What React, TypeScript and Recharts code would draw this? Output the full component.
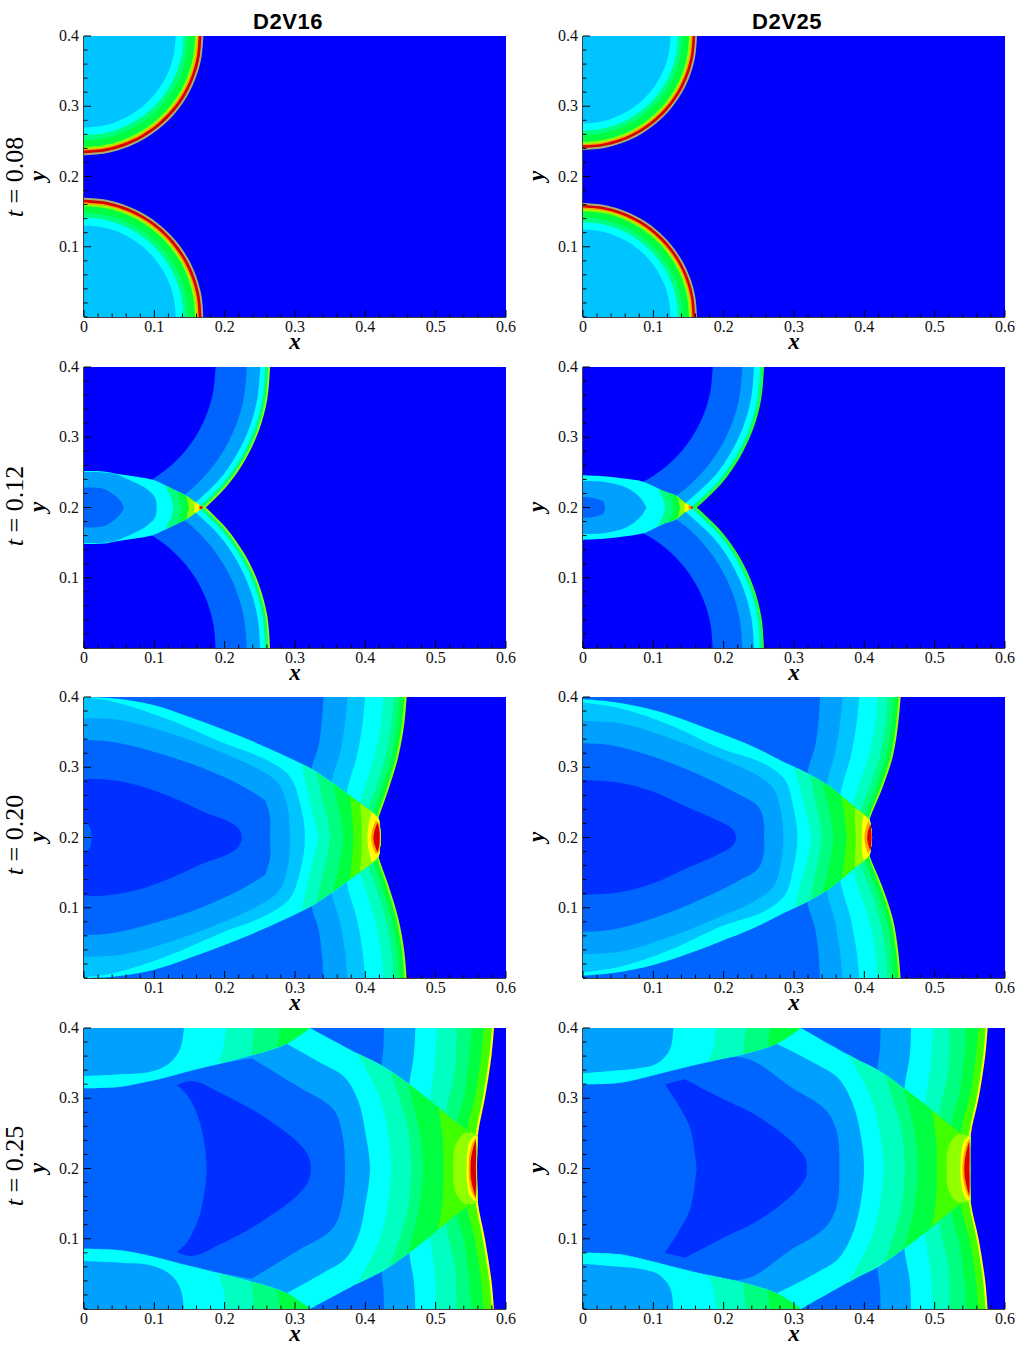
import React from 'react';
import { ScatterChart, Scatter, XAxis, YAxis, Label } from 'recharts';

// contour colours, low to high
const PALETTE = ['#0000ff', '#0030ff', '#0064ff', '#00a0ff', '#00c4ff', '#00ffff', '#00ffc0', '#00ff80', '#00ff40', '#40ff00', '#90ff00', '#ffff00', '#ffa000', '#ff3000', '#d80000', '#a8b070'];

const xTicks = [0, 0.02, 0.04, 0.06, 0.08, 0.1, 0.12, 0.14, 0.16, 0.18, 0.2, 0.22, 0.24, 0.26, 0.28, 0.3, 0.32, 0.34, 0.36, 0.38, 0.4, 0.42, 0.44, 0.46, 0.48, 0.5, 0.52, 0.54, 0.56, 0.58, 0.6];
const yTicks = [0, 0.02, 0.04, 0.06, 0.08, 0.1, 0.12, 0.14, 0.16, 0.18, 0.2, 0.22, 0.24, 0.26, 0.28, 0.3, 0.32, 0.34, 0.36, 0.38, 0.4];
const xMajor = [0, 0.1, 0.2, 0.3, 0.4, 0.5, 0.6];
const yMajor = [0.1, 0.2, 0.3, 0.4];
const columnTitles = ['D2V16', 'D2V25'];
const rowTimes = ['0.08', '0.12', '0.20', '0.25'];

const backdrop = [0, 0.4, 0.6, 0.4, 0.6, 0.2];

// contours hold the upper half (x, y, x, y ...); the field is symmetric about y = 0.2
// t = 0.08
const r1LeftLevels = [0, 15, 14, 12, 10, 8, 7, 5, 4];
const r1Left = [
  backdrop,
  [0, 0.4, 0.1697, 0.4, 0.1672, 0.3705, 0.1595, 0.342, 0.147, 0.3151, 0.13, 0.2909, 0.1091, 0.27, 0.0849, 0.253, 0.058, 0.2405, 0.0295, 0.2328, 0, 0.2303, 0, 0.2],
  [0, 0.4, 0.167, 0.4, 0.1645, 0.3709, 0.157, 0.3429, 0.1446, 0.3165, 0.1279, 0.2926, 0.1074, 0.2721, 0.0835, 0.2554, 0.0571, 0.243, 0.0291, 0.2355, 0, 0.233, 0, 0.2],
  [0, 0.4, 0.163, 0.4, 0.1606, 0.3716, 0.1532, 0.3443, 0.1412, 0.3185, 0.1249, 0.2952, 0.1048, 0.2751, 0.0815, 0.2588, 0.0557, 0.2468, 0.0284, 0.2394, 0, 0.237, 0, 0.2],
  [0, 0.4, 0.161, 0.4, 0.1586, 0.372, 0.1513, 0.3449, 0.1394, 0.3195, 0.1233, 0.2965, 0.1035, 0.2767, 0.0805, 0.2606, 0.0551, 0.2487, 0.028, 0.2414, 0, 0.239, 0, 0.2],
  [0, 0.4, 0.1578, 0.4, 0.1554, 0.3725, 0.1483, 0.346, 0.1367, 0.3211, 0.1209, 0.2985, 0.1015, 0.2791, 0.0789, 0.2633, 0.054, 0.2517, 0.0275, 0.2446, 0, 0.2422, 0, 0.2],
  [0, 0.4, 0.148, 0.4, 0.1458, 0.3742, 0.1391, 0.3494, 0.1282, 0.326, 0.1134, 0.3048, 0.0952, 0.2866, 0.074, 0.2718, 0.0506, 0.2609, 0.0258, 0.2542, 0, 0.252, 0, 0.2],
  [0, 0.4, 0.1412, 0.4, 0.1391, 0.3754, 0.1327, 0.3517, 0.1223, 0.3294, 0.1082, 0.3092, 0.0908, 0.2918, 0.0706, 0.2777, 0.0483, 0.2673, 0.0246, 0.2609, 0, 0.2588, 0, 0.2],
  [0, 0.4, 0.1304, 0.4, 0.1284, 0.3773, 0.1226, 0.3554, 0.1129, 0.3348, 0.0999, 0.3162, 0.0838, 0.3001, 0.0652, 0.2871, 0.0446, 0.2774, 0.0227, 0.2716, 0, 0.2696, 0, 0.2],
];

const r1RightLevels = [0, 15, 14, 12, 10, 8, 7, 5, 4];
const r1Right = [
  backdrop,
  [0, 0.4, 0.1621, 0.4, 0.1597, 0.3718, 0.1524, 0.3446, 0.1404, 0.3189, 0.1242, 0.2958, 0.1042, 0.2758, 0.0811, 0.2596, 0.0554, 0.2476, 0.0282, 0.2403, 0, 0.2379, 0, 0.2],
  [0, 0.4, 0.1595, 0.4, 0.1571, 0.3722, 0.1499, 0.3455, 0.1381, 0.3202, 0.1222, 0.2974, 0.1026, 0.2778, 0.0798, 0.2619, 0.0545, 0.2501, 0.0278, 0.2429, 0, 0.2405, 0, 0.2],
  [0, 0.4, 0.1557, 0.4, 0.1534, 0.3729, 0.1464, 0.3468, 0.1348, 0.3221, 0.1193, 0.2999, 0.1001, 0.2807, 0.0779, 0.2652, 0.0532, 0.2536, 0.0271, 0.2466, 0, 0.2443, 0, 0.2],
  [0, 0.4, 0.1538, 0.4, 0.1515, 0.3732, 0.1446, 0.3474, 0.1332, 0.3231, 0.1178, 0.3011, 0.0989, 0.2822, 0.0769, 0.2668, 0.0526, 0.2554, 0.0268, 0.2485, 0, 0.2462, 0, 0.2],
  [0, 0.4, 0.1507, 0.4, 0.1484, 0.3738, 0.1417, 0.3485, 0.1305, 0.3246, 0.1154, 0.3031, 0.0969, 0.2846, 0.0754, 0.2695, 0.0515, 0.2583, 0.0262, 0.2516, 0, 0.2493, 0, 0.2],
  [0, 0.4, 0.1413, 0.4, 0.1392, 0.3754, 0.1328, 0.3517, 0.1224, 0.3293, 0.1082, 0.3091, 0.0909, 0.2918, 0.0707, 0.2776, 0.0483, 0.2672, 0.0246, 0.2608, 0, 0.2587, 0, 0.2],
  [0, 0.4, 0.1349, 0.4, 0.1329, 0.3765, 0.1268, 0.3539, 0.1168, 0.3325, 0.1033, 0.3133, 0.0867, 0.2967, 0.0675, 0.2832, 0.0461, 0.2732, 0.0235, 0.2671, 0, 0.2651, 0, 0.2],
  [0, 0.4, 0.1245, 0.4, 0.1226, 0.3783, 0.117, 0.3574, 0.1078, 0.3378, 0.0954, 0.3199, 0.0801, 0.3046, 0.0623, 0.2922, 0.0426, 0.283, 0.0217, 0.2774, 0, 0.2755, 0, 0.2],
];

// t = 0.12
const r2LeftLevels = [0, 10, 7, 5, 3, 2, 0, 5, 3, 2, 7, 8, 10, 11, 12, 14];
const r2Left = [
  backdrop,
  [0, 0.4, 0.2646, 0.4, 0.2606, 0.354, 0.2487, 0.3095, 0.2291, 0.2677, 0.2027, 0.2299, 0.1732, 0.2],
  [0, 0.4, 0.262, 0.4, 0.2581, 0.3544, 0.2463, 0.3104, 0.2269, 0.269, 0.2007, 0.2315, 0.1692, 0.2],
  [0, 0.4, 0.2575, 0.4, 0.2536, 0.3552, 0.2421, 0.3119, 0.223, 0.2713, 0.1973, 0.2344, 0.1622, 0.2],
  [0, 0.4, 0.2504, 0.4, 0.2467, 0.3564, 0.2354, 0.3144, 0.2168, 0.2748, 0.1918, 0.239, 0.1507, 0.2],
  [0, 0.4, 0.2314, 0.4, 0.2279, 0.3597, 0.2175, 0.3209, 0.2004, 0.2843, 0.1773, 0.2513, 0.1488, 0.2227, 0.1164, 0.2],
  [0, 0.4, 0.187, 0.4, 0.1842, 0.3675, 0.1757, 0.336, 0.1619, 0.3065, 0.1432, 0.2798, 0.1202, 0.2568, 0.0935, 0.2381, 0.064, 0.2242, 0.0325, 0.2158, 0, 0.213, 0, 0.2],
  [0, 0.2519, 0.0275, 0.2514, 0.0512, 0.2472, 0.0749, 0.2438, 0.0986, 0.2391, 0.1223, 0.2282, 0.146, 0.2163, 0.1578, 0.2082, 0.1697, 0.2],
  [0, 0.2505, 0.0275, 0.25, 0.045, 0.2475, 0.0559, 0.2432, 0.0749, 0.2344, 0.0891, 0.2263, 0.1009, 0.2144, 0.1033, 0.2],
  [0, 0.2282, 0.0275, 0.2268, 0.0417, 0.2187, 0.0536, 0.2068, 0.0569, 0.2],
  [0.127, 0.2, 0.1246, 0.2116, 0.1152, 0.2315, 0.1223, 0.2282, 0.146, 0.2163, 0.1578, 0.2082, 0.1697, 0.2],
  [0.1389, 0.2, 0.1365, 0.2092, 0.133, 0.2228, 0.146, 0.2163, 0.1578, 0.2082, 0.1697, 0.2],
  [0.1493, 0.2, 0.147, 0.2092, 0.146, 0.2163, 0.1578, 0.2082, 0.1697, 0.2],
  [0.1578, 0.2, 0.1569, 0.2055, 0.1578, 0.2082, 0.1697, 0.2],
  [0.1625, 0.2, 0.1645, 0.2037, 0.1697, 0.2],
  [0.164, 0.2, 0.1665, 0.2025, 0.169, 0.2],
];

const r2RightLevels = [0, 9, 7, 5, 3, 2, 0, 5, 3, 2, 7, 8, 10, 11, 12, 14];
const r2Right = [
  backdrop,
  [0, 0.4, 0.2574, 0.4, 0.2535, 0.3553, 0.242, 0.312, 0.2229, 0.2713, 0.1972, 0.2345, 0.162, 0.2],
  [0, 0.4, 0.2555, 0.4, 0.2517, 0.3555, 0.2402, 0.3126, 0.2213, 0.2723, 0.1957, 0.2357, 0.159, 0.2],
  [0, 0.4, 0.2516, 0.4, 0.2478, 0.3562, 0.2365, 0.314, 0.2179, 0.2742, 0.1927, 0.2382, 0.1526, 0.2],
  [0, 0.4, 0.2431, 0.4, 0.2395, 0.3577, 0.2285, 0.3169, 0.2105, 0.2785, 0.1862, 0.2437, 0.1382, 0.2],
  [0, 0.4, 0.2265, 0.4, 0.2231, 0.3606, 0.2129, 0.3225, 0.1962, 0.2868, 0.1735, 0.2543, 0.1456, 0.2265, 0.1063, 0.2],
  [0, 0.4, 0.1844, 0.4, 0.1816, 0.3679, 0.1733, 0.3369, 0.1597, 0.3078, 0.1413, 0.2815, 0.1186, 0.2587, 0.0922, 0.2403, 0.0631, 0.2269, 0.0321, 0.2184, 0, 0.2156, 0, 0.2],
  [0, 0.2458, 0.0289, 0.2445, 0.0526, 0.242, 0.0858, 0.2367, 0.1, 0.2305, 0.1142, 0.2235, 0.1332, 0.2163, 0.145, 0.2068, 0.1569, 0.2],
  [0, 0.2377, 0.0289, 0.2367, 0.0621, 0.2282, 0.081, 0.2144, 0.0905, 0.2],
  [0, 0.2149, 0.015, 0.2137, 0.0289, 0.2092, 0.0313, 0.2],
  [0.1166, 0.2, 0.1142, 0.211, 0.106, 0.2273, 0.1142, 0.2235, 0.1332, 0.2163, 0.145, 0.2068, 0.1569, 0.2],
  [0.1284, 0.2, 0.1265, 0.2092, 0.12, 0.2213, 0.1332, 0.2163, 0.145, 0.2068, 0.1569, 0.2],
  [0.1379, 0.2, 0.136, 0.2092, 0.1332, 0.2163, 0.145, 0.2068, 0.1569, 0.2],
  [0.145, 0.2, 0.144, 0.206, 0.145, 0.2068, 0.1569, 0.2],
  [0.1498, 0.2, 0.151, 0.204, 0.1569, 0.2],
  [0.1525, 0.2, 0.1545, 0.2022, 0.1565, 0.2],
];

// t = 0.20
const r3LeftLevels = [0, 10, 8, 7, 6, 5, 4, 3, 2, 5, 4, 3, 2, 1, 2, 6, 7, 8, 9, 10, 11, 12, 14];
const r3Left = [
  backdrop,
  [0, 0.4, 0.4588, 0.4, 0.4555, 0.3626, 0.4469, 0.3151, 0.4327, 0.2676, 0.4185, 0.2273, 0.41, 0.2],
  [0, 0.4, 0.4555, 0.4, 0.4522, 0.3626, 0.4437, 0.3151, 0.4297, 0.2676, 0.4165, 0.229, 0.41, 0.2],
  [0, 0.4, 0.4483, 0.4, 0.4455, 0.3626, 0.437, 0.3151, 0.4225, 0.2676, 0.412, 0.234, 0.412, 0.2],
  [0, 0.4, 0.4398, 0.4, 0.437, 0.3626, 0.4285, 0.3151, 0.414, 0.2676, 0.404, 0.24, 0.404, 0.2],
  [0, 0.4, 0.4255, 0.4, 0.4225, 0.3626, 0.413, 0.3151, 0.398, 0.2676, 0.39, 0.24, 0.39, 0.2],
  [0, 0.4, 0.3996, 0.4, 0.3962, 0.3626, 0.3877, 0.3151, 0.3735, 0.2629, 0.3735, 0.2],
  [0, 0.4, 0.3744, 0.4, 0.3711, 0.3626, 0.364, 0.3198, 0.3522, 0.2795, 0.3522, 0.2],
  [0, 0.4, 0.3405, 0.4, 0.3379, 0.3626, 0.3332, 0.3293, 0.3237, 0.2985, 0.3237, 0.2],
  [0, 0.4, 0.0417, 0.3981, 0.0986, 0.3886, 0.146, 0.373, 0.1934, 0.3554, 0.2408, 0.3365, 0.2834, 0.3175, 0.3237, 0.2975, 0.3522, 0.2786, 0.3734, 0.2629, 0.3971, 0.2454, 0.4185, 0.2273, 0.4205, 0.218, 0.4218, 0.2],
  [0, 0.3996, 0.0417, 0.3934, 0.1223, 0.3673, 0.1934, 0.3365, 0.2645, 0.308, 0.2929, 0.2866, 0.3071, 0.2487, 0.3142, 0.2],
  [0, 0.3697, 0.0512, 0.3673, 0.1223, 0.3483, 0.1934, 0.3222, 0.2455, 0.2985, 0.2763, 0.2771, 0.2882, 0.2487, 0.2929, 0.2],
  [0, 0.3388, 0.037, 0.3365, 0.0986, 0.3222, 0.1697, 0.2985, 0.2266, 0.2724, 0.2574, 0.2534, 0.2645, 0.2297, 0.2645, 0.2],
  [0, 0.2828, 0.0275, 0.2828, 0.0749, 0.2748, 0.1223, 0.2582, 0.1697, 0.2368, 0.2171, 0.2155, 0.2242, 0.2036, 0.2242, 0.2],
  [0, 0.2205, 0.006, 0.218, 0.0095, 0.211, 0.0105, 0.2],
  [0.3332, 0.2, 0.3285, 0.2202, 0.3213, 0.2487, 0.3095, 0.3045, 0.3237, 0.2975, 0.3522, 0.2786, 0.3734, 0.2629, 0.3971, 0.2454, 0.4185, 0.2273, 0.4205, 0.218, 0.4218, 0.2],
  [0.3498, 0.2, 0.3474, 0.2202, 0.3402, 0.2487, 0.3307, 0.2929, 0.3522, 0.2786, 0.3734, 0.2629, 0.3971, 0.2454, 0.4185, 0.2273, 0.4205, 0.218, 0.4218, 0.2],
  [0.3688, 0.2, 0.3664, 0.2202, 0.3616, 0.2439, 0.3545, 0.2769, 0.3734, 0.2629, 0.3971, 0.2454, 0.4185, 0.2273, 0.4205, 0.218, 0.4218, 0.2],
  [0.383, 0.2, 0.382, 0.2202, 0.3782, 0.259, 0.3971, 0.2454, 0.4185, 0.2273, 0.4205, 0.218, 0.4218, 0.2],
  [0.3948, 0.2, 0.3948, 0.2202, 0.3924, 0.2487, 0.3971, 0.2454, 0.4185, 0.2273, 0.4205, 0.218, 0.4218, 0.2],
  [0.4029, 0.2, 0.4043, 0.2155, 0.409, 0.2355, 0.4185, 0.2273, 0.4205, 0.218, 0.4218, 0.2],
  [0.4081, 0.2, 0.4095, 0.21, 0.415, 0.224, 0.4195, 0.22, 0.4205, 0.215, 0.4212, 0.2],
  [0.4114, 0.2, 0.4128, 0.209, 0.4171, 0.2211, 0.4195, 0.213, 0.4205, 0.2],
];

const r3RightLevels = [0, 10, 8, 7, 6, 5, 4, 3, 2, 5, 4, 3, 2, 1, 6, 7, 8, 9, 10, 11, 12, 14];
const r3Right = [
  backdrop,
  [0, 0.4, 0.4517, 0.4, 0.4483, 0.3626, 0.4404, 0.3151, 0.4246, 0.2676, 0.4075, 0.2262, 0.4, 0.2],
  [0, 0.4, 0.4484, 0.4, 0.4452, 0.3626, 0.4372, 0.3151, 0.4216, 0.2676, 0.4065, 0.229, 0.4, 0.2],
  [0, 0.4, 0.4412, 0.4, 0.4385, 0.3626, 0.4305, 0.3151, 0.415, 0.2676, 0.403, 0.234, 0.403, 0.2],
  [0, 0.4, 0.4327, 0.4, 0.43, 0.3626, 0.4215, 0.3151, 0.406, 0.2676, 0.396, 0.24, 0.396, 0.2],
  [0, 0.4, 0.4184, 0.4, 0.4155, 0.3626, 0.406, 0.3151, 0.39, 0.2676, 0.382, 0.24, 0.382, 0.2],
  [0, 0.4, 0.3929, 0.4, 0.3891, 0.3626, 0.3806, 0.3151, 0.3654, 0.2582, 0.3654, 0.2],
  [0, 0.4, 0.3692, 0.4, 0.3654, 0.3626, 0.3583, 0.3198, 0.3465, 0.2748, 0.3465, 0.2],
  [0, 0.4, 0.337, 0.4, 0.3346, 0.3626, 0.3299, 0.3293, 0.3189, 0.2914, 0.3189, 0.2],
  [0, 0.3967, 0.0431, 0.3929, 0.1, 0.3815, 0.1474, 0.3663, 0.1948, 0.3483, 0.2422, 0.3293, 0.2848, 0.308, 0.3189, 0.2914, 0.3488, 0.274, 0.3664, 0.26, 0.3867, 0.2426, 0.407, 0.2255, 0.4092, 0.216, 0.411, 0.2],
  [0, 0.392, 0.0526, 0.3839, 0.1237, 0.3602, 0.1948, 0.327, 0.2611, 0.3032, 0.2872, 0.2819, 0.299, 0.2439, 0.3048, 0.2],
  [0, 0.3659, 0.0526, 0.3626, 0.1237, 0.3412, 0.1948, 0.3127, 0.2469, 0.289, 0.2706, 0.27, 0.2801, 0.2439, 0.2848, 0.2],
  [0, 0.3341, 0.0384, 0.3317, 0.1, 0.3151, 0.1711, 0.2866, 0.2232, 0.2605, 0.2493, 0.2439, 0.2574, 0.2202, 0.2574, 0.2],
  [0, 0.2819, 0.0526, 0.2781, 0.1, 0.2653, 0.1474, 0.2439, 0.1948, 0.2226, 0.2137, 0.2107, 0.2175, 0.2],
  [0.3252, 0.2, 0.321, 0.2202, 0.314, 0.2487, 0.3, 0.3006, 0.3189, 0.2914, 0.3488, 0.274, 0.3664, 0.26, 0.3867, 0.2426, 0.407, 0.2255, 0.4092, 0.216, 0.411, 0.2],
  [0.3394, 0.2, 0.3375, 0.2202, 0.331, 0.2487, 0.323, 0.2891, 0.3488, 0.274, 0.3664, 0.26, 0.3867, 0.2426, 0.407, 0.2255, 0.4092, 0.216, 0.411, 0.2],
  [0.3559, 0.2, 0.3535, 0.2202, 0.348, 0.2487, 0.34, 0.279, 0.3488, 0.274, 0.3664, 0.26, 0.3867, 0.2426, 0.407, 0.2255, 0.4092, 0.216, 0.411, 0.2],
  [0.3749, 0.2, 0.373, 0.2202, 0.368, 0.2586, 0.3867, 0.2426, 0.407, 0.2255, 0.4092, 0.216, 0.411, 0.2],
  [0.3881, 0.2, 0.387, 0.2202, 0.3867, 0.2426, 0.407, 0.2255, 0.4092, 0.216, 0.411, 0.2],
  [0.3962, 0.2, 0.3965, 0.2155, 0.399, 0.2322, 0.407, 0.2255, 0.4092, 0.216, 0.411, 0.2],
  [0.4, 0.2, 0.4012, 0.21, 0.4058, 0.224, 0.4092, 0.216, 0.4105, 0.2],
  [0.404, 0.2, 0.4052, 0.209, 0.4088, 0.219, 0.4098, 0.21, 0.4102, 0.2],
];

// t = 0.25
const r4LeftLevels = [0, 11, 9, 8, 7, 6, 5, 3, 2, 5, 3, 2, 1, 6, 7, 8, 9, 10, 11, 12, 14, 5, 3];
const r4Left = [
  backdrop,
  [0, 0.4, 0.583, 0.4, 0.5797, 0.3626, 0.5702, 0.3009, 0.5598, 0.2463, 0.558, 0.2],
  [0, 0.4, 0.58, 0.4, 0.5765, 0.3626, 0.567, 0.3009, 0.557, 0.251, 0.55, 0.2],
  [0, 0.4, 0.5678, 0.4, 0.565, 0.3626, 0.5555, 0.3009, 0.545, 0.256, 0.545, 0.2],
  [0, 0.4, 0.5512, 0.4, 0.548, 0.3626, 0.54, 0.3009, 0.53, 0.2653, 0.53, 0.2],
  [0, 0.4, 0.5299, 0.4, 0.5275, 0.3388, 0.5157, 0.2843, 0.5157, 0.2],
  [0, 0.4, 0.5015, 0.4, 0.4991, 0.3531, 0.492, 0.2961, 0.492, 0.2],
  [0, 0.4, 0.4711, 0.4, 0.4692, 0.3626, 0.4626, 0.3198, 0.4626, 0.2],
  [0, 0.4, 0.4266, 0.4, 0.4256, 0.372, 0.4233, 0.3459, 0.4233, 0.2],
  [0, 0.3142, 0.0512, 0.3165, 0.0986, 0.3255, 0.146, 0.3379, 0.191, 0.3488, 0.2384, 0.3611, 0.2881, 0.3777, 0.3214, 0.4, 0.3877, 0.3644, 0.4247, 0.3459, 0.4626, 0.3198, 0.4929, 0.2961, 0.5299, 0.2653, 0.5512, 0.251, 0.5598, 0.2463, 0.559, 0.225, 0.5588, 0.2],
  [0, 0.3142, 0.0512, 0.3165, 0.0986, 0.3255, 0.146, 0.3379, 0.191, 0.3488, 0.2384, 0.3611, 0.2881, 0.3777, 0.3403, 0.3483, 0.3711, 0.3293, 0.39, 0.2961, 0.3996, 0.2534, 0.4066, 0.2],
  [0, 0.3142, 0.0512, 0.316, 0.0986, 0.325, 0.146, 0.3374, 0.191, 0.348, 0.2384, 0.3569, 0.3071, 0.3151, 0.3545, 0.2843, 0.3664, 0.2534, 0.3711, 0.2],
  [0.1744, 0.2, 0.172, 0.2297, 0.1626, 0.2724, 0.146, 0.3056, 0.1318, 0.3189, 0.1531, 0.3246, 0.1934, 0.308, 0.2645, 0.2677, 0.3166, 0.2226, 0.3223, 0.206, 0.3223, 0.2],
  [0.4365, 0.2, 0.4327, 0.2487, 0.4185, 0.3056, 0.3877, 0.3644, 0.4247, 0.3459, 0.4626, 0.3198, 0.4929, 0.2961, 0.5299, 0.2653, 0.5512, 0.251, 0.5598, 0.2463, 0.559, 0.225, 0.5588, 0.2],
  [0.4659, 0.2, 0.4612, 0.2534, 0.4469, 0.3056, 0.4351, 0.3387, 0.4626, 0.3198, 0.4929, 0.2961, 0.5299, 0.2653, 0.5512, 0.251, 0.5598, 0.2463, 0.559, 0.225, 0.5588, 0.2],
  [0.4825, 0.2, 0.4777, 0.2487, 0.4682, 0.2914, 0.4612, 0.3208, 0.4929, 0.2961, 0.5299, 0.2653, 0.5512, 0.251, 0.5598, 0.2463, 0.559, 0.225, 0.5588, 0.2],
  [0.5109, 0.2, 0.51, 0.2439, 0.5038, 0.287, 0.5299, 0.2653, 0.5512, 0.251, 0.5598, 0.2463, 0.559, 0.225, 0.5588, 0.2],
  [0.5252, 0.2, 0.5252, 0.2197, 0.53, 0.238, 0.54, 0.25, 0.5512, 0.251, 0.5598, 0.2463, 0.559, 0.225, 0.5588, 0.2],
  [0.544, 0.2, 0.5445, 0.22, 0.548, 0.238, 0.556, 0.247, 0.5598, 0.2463, 0.559, 0.225, 0.5588, 0.2],
  [0.547, 0.2, 0.5475, 0.215, 0.551, 0.232, 0.557, 0.244, 0.5585, 0.23, 0.558, 0.2],
  [0.5495, 0.2, 0.5502, 0.215, 0.5535, 0.23, 0.5568, 0.2413, 0.5575, 0.22, 0.5572, 0.2],
  [0, 0.4, 0.3214, 0.4, 0.2881, 0.3777, 0.2384, 0.3611, 0.191, 0.3488, 0.146, 0.3379, 0.0986, 0.3255, 0.0512, 0.3165, 0, 0.3142],
  [0, 0.4, 0.1422, 0.4, 0.1365, 0.3697, 0.1223, 0.3507, 0.0986, 0.3388, 0.0512, 0.3341, 0, 0.3317],
];
// wedges under the top wall: drawn on their own, once at the top and once mirrored
const r4LeftCapLevels = [6, 7, 8];
const r4LeftCaps = [
  [0.2019, 0.4, 0.1981, 0.372, 0.191, 0.3488, 0.2384, 0.3611, 0.2881, 0.3777, 0.3214, 0.4],
  [0.2417, 0.4, 0.2384, 0.3611, 0.2881, 0.3777, 0.3214, 0.4],
  [0.2787, 0.4, 0.2749, 0.3733, 0.2881, 0.3777, 0.3214, 0.4],
];

const r4RightLevels = [0, 11, 9, 8, 7, 6, 5, 3, 2, 5, 3, 2, 1, 6, 7, 8, 9, 10, 11, 12, 14, 5, 3];
const r4Right = [
  backdrop,
  [0, 0.4, 0.5754, 0.4, 0.5722, 0.3626, 0.5627, 0.3009, 0.551, 0.2455, 0.5505, 0.2],
  [0, 0.4, 0.5725, 0.4, 0.5692, 0.3626, 0.5597, 0.3009, 0.549, 0.251, 0.545, 0.2],
  [0, 0.4, 0.5621, 0.4, 0.559, 0.3626, 0.5495, 0.3009, 0.538, 0.256, 0.538, 0.2],
  [0, 0.4, 0.5456, 0.4, 0.5425, 0.3626, 0.534, 0.3009, 0.524, 0.264, 0.524, 0.2],
  [0, 0.4, 0.5218, 0.4, 0.5194, 0.3388, 0.5076, 0.2819, 0.5076, 0.2],
  [0, 0.4, 0.4972, 0.4, 0.4948, 0.3531, 0.4863, 0.2914, 0.4863, 0.2],
  [0, 0.4, 0.4664, 0.4, 0.465, 0.3626, 0.4569, 0.3137, 0.4569, 0.2],
  [0, 0.4, 0.4232, 0.4, 0.4223, 0.372, 0.4185, 0.3398, 0.4185, 0.2],
  [0, 0.3198, 0.0526, 0.3222, 0.0858, 0.3293, 0.1237, 0.3388, 0.1782, 0.3521, 0.228, 0.3626, 0.2754, 0.3777, 0.31, 0.4, 0.3891, 0.3554, 0.4199, 0.3398, 0.4569, 0.3137, 0.4863, 0.2914, 0.5218, 0.262, 0.5432, 0.2477, 0.551, 0.2455, 0.5505, 0.225, 0.5505, 0.2],
  [0, 0.3198, 0.0526, 0.3222, 0.0858, 0.3293, 0.1237, 0.3388, 0.1782, 0.3521, 0.228, 0.3626, 0.2754, 0.3777, 0.3323, 0.3483, 0.363, 0.3284, 0.382, 0.2961, 0.3939, 0.2534, 0.3995, 0.2],
  [0, 0.3198, 0.0526, 0.3217, 0.0858, 0.3288, 0.1237, 0.3383, 0.1782, 0.351, 0.228, 0.3578, 0.2967, 0.3151, 0.3465, 0.2819, 0.3607, 0.2534, 0.3644, 0.2],
  [0.1616, 0.2, 0.1592, 0.2202, 0.1521, 0.2582, 0.1379, 0.2866, 0.1166, 0.3198, 0.145, 0.327, 0.1948, 0.3009, 0.2517, 0.2724, 0.311, 0.2226, 0.3181, 0.2083, 0.3181, 0.2],
  [0.428, 0.2, 0.4223, 0.2487, 0.4081, 0.3032, 0.3773, 0.3621, 0.3891, 0.3554, 0.4199, 0.3398, 0.4569, 0.3137, 0.4863, 0.2914, 0.5218, 0.262, 0.5432, 0.2477, 0.551, 0.2455, 0.5505, 0.225, 0.5505, 0.2],
  [0.4578, 0.2, 0.4532, 0.2534, 0.4389, 0.3032, 0.4294, 0.3331, 0.4569, 0.3137, 0.4863, 0.2914, 0.5218, 0.262, 0.5432, 0.2477, 0.551, 0.2455, 0.5505, 0.225, 0.5505, 0.2],
  [0.4768, 0.2, 0.4721, 0.2487, 0.4626, 0.2914, 0.4555, 0.3147, 0.4863, 0.2914, 0.5218, 0.262, 0.5432, 0.2477, 0.551, 0.2455, 0.5505, 0.225, 0.5505, 0.2],
  [0.5029, 0.2, 0.5019, 0.2439, 0.4958, 0.2835, 0.5218, 0.262, 0.5432, 0.2477, 0.551, 0.2455, 0.5505, 0.225, 0.5505, 0.2],
  [0.5171, 0.2, 0.5171, 0.2197, 0.5242, 0.24, 0.534, 0.249, 0.5432, 0.2477, 0.551, 0.2455, 0.5505, 0.225, 0.5505, 0.2],
  [0.5365, 0.2, 0.5375, 0.22, 0.541, 0.237, 0.5475, 0.246, 0.551, 0.2455, 0.5505, 0.225, 0.5505, 0.2],
  [0.5395, 0.2, 0.5405, 0.215, 0.5445, 0.232, 0.549, 0.243, 0.5503, 0.23, 0.5503, 0.2],
  [0.5421, 0.2, 0.5432, 0.215, 0.5465, 0.23, 0.5493, 0.2392, 0.5497, 0.22, 0.5493, 0.2],
  [0, 0.4, 0.31, 0.4, 0.2754, 0.3777, 0.228, 0.3626, 0.1782, 0.3521, 0.1237, 0.3388, 0.0858, 0.3293, 0.0526, 0.3222, 0, 0.3198],
  [0, 0.4, 0.1284, 0.4, 0.1237, 0.3697, 0.1071, 0.3507, 0.0858, 0.3436, 0.0384, 0.3388, 0, 0.3355],
];
const r4RightCapLevels = [6, 7, 8];
const r4RightCaps = [
  [0.1891, 0.4, 0.1853, 0.372, 0.1782, 0.3521, 0.228, 0.3626, 0.2754, 0.3777, 0.31, 0.4],
  [0.2313, 0.4, 0.228, 0.3626, 0.2754, 0.3777, 0.31, 0.4],
  [0.2659, 0.4, 0.262, 0.3734, 0.2754, 0.3777, 0.31, 0.4],
];

const FLIP = 0.4; // y + y' = 0.4 about the centre line
const CORNER = 0.7; // radians; sharper turns than this stay sharp

const pairs = (flat: number[]) => {
  const out: { x: number; y: number }[] = [];
  for (let i = 0; i < flat.length; i += 2) out.push({ x: flat[i], y: flat[i + 1] });
  return out;
};
const flipped = (pts: { x: number; y: number }[]) => pts.map((p) => ({ x: p.x, y: FLIP - p.y }));
const joined = (flat: number[]) => {
  const top = pairs(flat);
  return [...top, ...flipped(top).reverse()];
};

const near = (list: number[], v: number) => list.some((m) => Math.abs(m - v) < 1e-6);

// closed outline through the scaled points, rounded except at real corners
const smoothPath = (raw: any[]) => {
  const pts: { x: number; y: number }[] = [];
  raw.forEach((p) => {
    const q = { x: p.cx ?? p.x, y: p.cy ?? p.y };
    const last = pts[pts.length - 1];
    if (!last || Math.hypot(q.x - last.x, q.y - last.y) > 0.05) pts.push(q);
  });
  const n = pts.length;
  if (n < 3) return '';
  const tangents = pts.map((p, i) => {
    const a = pts[(i + n - 1) % n];
    const b = pts[(i + 1) % n];
    const la = Math.hypot(p.x - a.x, p.y - a.y) || 1;
    const lb = Math.hypot(b.x - p.x, b.y - p.y) || 1;
    const ux = (p.x - a.x) / la;
    const uy = (p.y - a.y) / la;
    const vx = (b.x - p.x) / lb;
    const vy = (b.y - p.y) / lb;
    const turn = Math.abs(Math.atan2(ux * vy - uy * vx, ux * vx + uy * vy));
    if (turn > CORNER) return null;
    const tx = ux + vx;
    const ty = uy + vy;
    const l = Math.hypot(tx, ty) || 1;
    return { x: tx / l, y: ty / l };
  });
  let d = `M${pts[0].x},${pts[0].y}`;
  for (let i = 0; i < n; i++) {
    const p = pts[i];
    const q = pts[(i + 1) % n];
    const len = Math.hypot(q.x - p.x, q.y - p.y) / 3;
    const t0 = tangents[i];
    const t1 = tangents[(i + 1) % n];
    const c1 = t0 ? { x: p.x + t0.x * len, y: p.y + t0.y * len } : p;
    const c2 = t1 ? { x: q.x - t1.x * len, y: q.y - t1.y * len } : q;
    d += `C${c1.x},${c1.y} ${c2.x},${c2.y} ${q.x},${q.y}`;
  }
  return d + 'Z';
};

const NoDot = () => <g />;

const XTick = ({ x, y, payload, hideZero }: any) => {
  const major = near(xMajor, payload.value);
  return (
    <g>
      <line x1={x} x2={x} y1={y} y2={y - (major ? 7 : 3.5)} stroke="#000" strokeWidth={1} />
      {major && !(hideZero && payload.value === 0) && (
        <text x={x} y={y + 15} textAnchor="middle" fontFamily="Liberation Serif" fontSize={16} fill="#111">
          {String(payload.value)}
        </text>
      )}
    </g>
  );
};

const YTick = ({ x, y, payload }: any) => {
  const major = near(yMajor, payload.value);
  return (
    <g>
      <line x1={x} x2={x + (major ? 7 : 3.5)} y1={y} y2={y} stroke="#000" strokeWidth={1} />
      {major && (
        <text x={x - 5} y={y + 5} textAnchor="end" fontFamily="Liberation Serif" fontSize={16} fill="#111">
          {String(payload.value)}
        </text>
      )}
    </g>
  );
};

const Polygon = (pts: { x: number; y: number }[], level: number, key: string) => (
  <Scatter
    key={key}
    data={pts}
    line={(p: any) => <path d={smoothPath(p.points)} fill={PALETTE[level]} stroke="none" />}
    shape={NoDot}
    legendType="none"
    isAnimationActive={false}
  />
);

const AxisLetterX = () => (
  <text x={271} y={321} textAnchor="middle" fontFamily="Liberation Serif" fontSize={23} fontWeight="bold" fontStyle="italic" fill="#000">
    x
  </text>
);
const AxisLetterY = () => (
  <text x={21} y={148} textAnchor="middle" transform="rotate(-90 21 148)" fontFamily="Liberation Serif" fontSize={23} fontWeight="bold" fontStyle="italic" fill="#000">
    y
  </text>
);

type PanelProps = {
  left: number;
  top: number;
  contours: number[][];
  levels: number[];
  caps?: number[][];
  capLevels?: number[];
  hideZero?: boolean;
};

const Panel = ({ left, top, contours, levels, caps = [], capLevels = [], hideZero }: PanelProps) => (
  <div style={{ position: 'absolute', left: left - 60, top: top - 8 }}>
    <ScatterChart width={502} height={334} margin={{ top: 8, right: 20, bottom: 0, left: 0 }}>
      {contours.map((c, i) => Polygon(joined(c), levels[i], `c${i}`))}
      {caps.map((c, i) => Polygon(pairs(c), capLevels[i], `t${i}`))}
      {caps.map((c, i) => Polygon(flipped(pairs(c)), capLevels[i], `b${i}`))}
      <XAxis
        type="number"
        dataKey="x"
        domain={[0, 0.6]}
        ticks={xTicks}
        interval={0}
        height={45}
        tickSize={0}
        tickMargin={0}
        tickLine={false}
        axisLine={{ stroke: '#000', strokeWidth: 1.5 }}
        tick={<XTick hideZero={hideZero} />}
      >
        <Label content={AxisLetterX} />
      </XAxis>
      <YAxis
        type="number"
        dataKey="y"
        domain={[0, 0.4]}
        ticks={yTicks}
        interval={0}
        width={60}
        tickSize={0}
        tickMargin={0}
        tickLine={false}
        axisLine={{ stroke: '#000', strokeWidth: 1.5 }}
        tick={<YTick />}
      >
        <Label content={AxisLetterY} />
      </YAxis>
    </ScatterChart>
  </div>
);

const ROW_TOPS = [36, 367, 697, 1028];
const COL_LEFTS = [84, 583];
const ROW_LABEL_OFFSET = [141, 139, 138, 138];

export default function App() {
  return (
    <div style={{ position: 'absolute', left: 0, top: 0, width: 1027, height: 1345, background: '#fff', overflow: 'hidden' }}>
      {columnTitles.map((t, i) => (
        <div
          key={t}
          style={{ position: 'absolute', left: COL_LEFTS[i] + 204 - 60, width: 120, top: 9, textAlign: 'center', fontFamily: 'Liberation Sans', fontWeight: 'bold', fontSize: 22, letterSpacing: 0.5, lineHeight: '26px' }}
        >
          {t}
        </div>
      ))}
      {rowTimes.map((t, i) => (
        <div
          key={t}
          style={{ position: 'absolute', left: 15, top: ROW_TOPS[i] + ROW_LABEL_OFFSET[i], transform: 'translate(-50%, -50%) rotate(-90deg)', whiteSpace: 'nowrap', fontFamily: 'Liberation Serif', fontSize: 26 }}
        >
          <i>t</i> = {t}
        </div>
      ))}
      <Panel left={COL_LEFTS[0]} top={ROW_TOPS[0]} contours={r1Left} levels={r1LeftLevels} />
      <Panel left={COL_LEFTS[1]} top={ROW_TOPS[0]} contours={r1Right} levels={r1RightLevels} />
      <Panel left={COL_LEFTS[0]} top={ROW_TOPS[1]} contours={r2Left} levels={r2LeftLevels} />
      <Panel left={COL_LEFTS[1]} top={ROW_TOPS[1]} contours={r2Right} levels={r2RightLevels} />
      <Panel left={COL_LEFTS[0]} top={ROW_TOPS[2]} contours={r3Left} levels={r3LeftLevels} hideZero />
      <Panel left={COL_LEFTS[1]} top={ROW_TOPS[2]} contours={r3Right} levels={r3RightLevels} hideZero />
      <Panel left={COL_LEFTS[0]} top={ROW_TOPS[3]} contours={r4Left} levels={r4LeftLevels} caps={r4LeftCaps} capLevels={r4LeftCapLevels} />
      <Panel left={COL_LEFTS[1]} top={ROW_TOPS[3]} contours={r4Right} levels={r4RightLevels} caps={r4RightCaps} capLevels={r4RightCapLevels} />
    </div>
  );
}
